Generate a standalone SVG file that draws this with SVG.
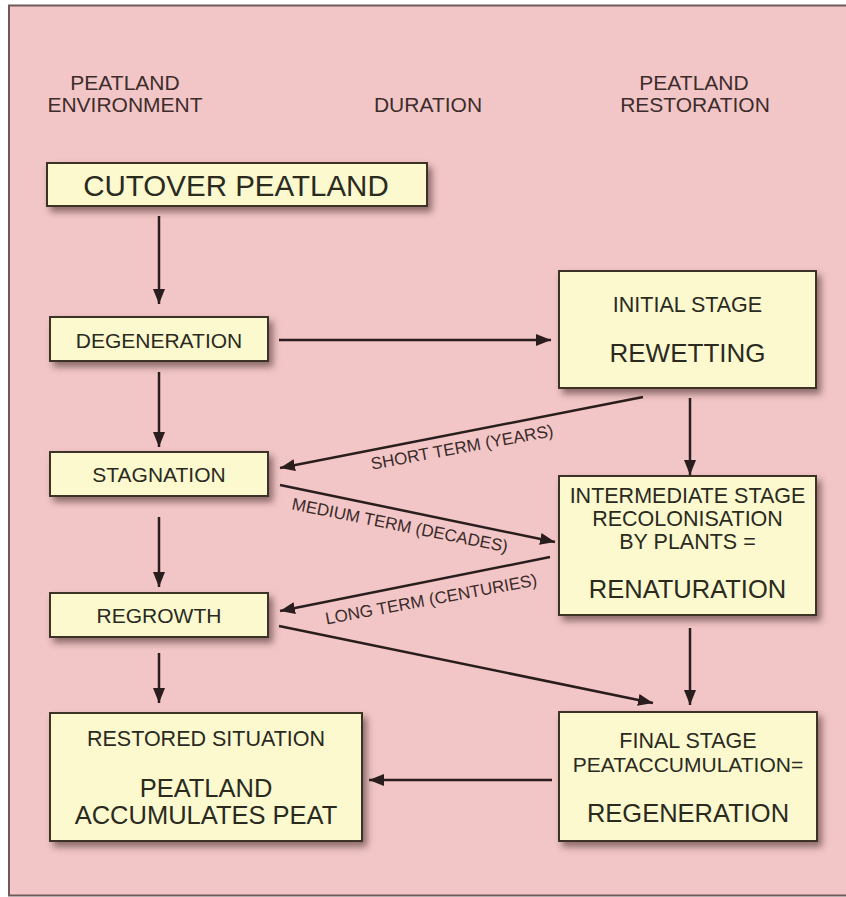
<svg xmlns="http://www.w3.org/2000/svg" width="846" height="897" viewBox="0 0 846 897">
<style>
.hdr{font-family:"Liberation Sans",Arial,sans-serif;font-size:21px;fill:#3d2c2c;text-anchor:middle}
.box{fill:#fcf9cf;stroke:#3d3328;stroke-width:2}
.t{font-family:"Liberation Sans",Arial,sans-serif;fill:#2a2a1e;text-anchor:middle}
.lbl{font-family:"Liberation Sans",Arial,sans-serif;font-size:17px;fill:#3a2a2a;text-anchor:middle}
.ln{stroke:#2a1d1d;stroke-width:2.5;fill:none;marker-end:url(#ah)}
</style>
<defs>
<marker id="ah" markerUnits="userSpaceOnUse" markerWidth="16" markerHeight="12" refX="15" refY="6" orient="auto">
<path d="M0,0 L15,6 L0,12 z" fill="#2a1d1d"/>
</marker>
<filter id="sh" x="-10%" y="-10%" width="130%" height="140%">
<feDropShadow dx="4" dy="5" stdDeviation="3.5" flood-color="#4a2e2e" flood-opacity="0.6"/>
</filter>
</defs>
<rect x="0" y="0" width="846" height="897" fill="#ffffff"/>
<rect x="9" y="5.5" width="850" height="890" fill="#f2c6c6" stroke="#6e5a5a" stroke-width="2"/>

<g id="headers">
<text class="hdr" x="125" y="90">PEATLAND</text>
<text class="hdr" x="125" y="112">ENVIRONMENT</text>
<text class="hdr" x="428" y="112">DURATION</text>
<text class="hdr" x="694" y="90">PEATLAND</text>
<text class="hdr" x="695" y="112">RESTORATION</text>
</g>

<g id="connectors">
<line class="ln" x1="159" y1="216" x2="159" y2="304"/>
<line class="ln" x1="279" y1="340" x2="551" y2="340"/>
<line class="ln" x1="159" y1="372" x2="159" y2="447"/>
<line class="ln" x1="643" y1="397" x2="280" y2="468"/>
<line class="ln" x1="690" y1="398" x2="690" y2="475"/>
<line class="ln" x1="280" y1="485" x2="555" y2="542"/>
<line class="ln" x1="550" y1="557" x2="280" y2="611"/>
<line class="ln" x1="159" y1="517" x2="159" y2="587"/>
<line class="ln" x1="279" y1="626" x2="653" y2="703"/>
<line class="ln" x1="159" y1="653" x2="159" y2="703"/>
<line class="ln" x1="690" y1="628" x2="690" y2="705"/>
<line class="ln" x1="552" y1="780" x2="369" y2="780"/>
<text class="lbl" transform="translate(462,447) rotate(-10.5)" x="0" y="6">SHORT TERM (YEARS)</text>
<text class="lbl" transform="translate(400,525) rotate(11.3)" x="0" y="6">MEDIUM TERM (DECADES)</text>
<text class="lbl" transform="translate(431,599) rotate(-10.5)" x="0" y="6">LONG TERM (CENTURIES)</text>
</g>

<g id="cutover">
<rect class="box" x="47" y="163" width="380" height="43" filter="url(#sh)"/>
<text class="t" x="236" y="196" font-size="29.5">CUTOVER PEATLAND</text>
</g>
<g id="degeneration">
<rect class="box" x="50" y="317" width="218" height="44" filter="url(#sh)"/>
<text class="t" x="159" y="347.5" font-size="21">DEGENERATION</text>
</g>
<g id="stagnation">
<rect class="box" x="50" y="452" width="218" height="44" filter="url(#sh)"/>
<text class="t" x="159" y="482" font-size="21">STAGNATION</text>
</g>
<g id="regrowth">
<rect class="box" x="50" y="593" width="218" height="44" filter="url(#sh)"/>
<text class="t" x="159" y="623" font-size="21">REGROWTH</text>
</g>
<g id="rewetting">
<rect class="box" x="559" y="271" width="257" height="117" filter="url(#sh)"/>
<text class="t" x="687.5" y="312" font-size="21.5">INITIAL STAGE</text>
<text class="t" x="687.5" y="362" font-size="26">REWETTING</text>
</g>
<g id="renaturation">
<rect class="box" x="559" y="476" width="257" height="139" filter="url(#sh)"/>
<text class="t" x="687.5" y="503" font-size="21.5">INTERMEDIATE STAGE</text>
<text class="t" x="687.5" y="526" font-size="21.5">RECOLONISATION</text>
<text class="t" x="687.5" y="549" font-size="21.5">BY PLANTS =</text>
<text class="t" x="687.5" y="598" font-size="25.5">RENATURATION</text>
</g>
<g id="regeneration">
<rect class="box" x="559" y="712" width="258" height="129" filter="url(#sh)"/>
<text class="t" x="688" y="748" font-size="21.5">FINAL STAGE</text>
<text class="t" x="688" y="772" font-size="21">PEATACCUMULATION=</text>
<text class="t" x="688" y="822" font-size="25.5">REGENERATION</text>
</g>
<g id="restored">
<rect class="box" x="50" y="713" width="312" height="128" filter="url(#sh)"/>
<text class="t" x="206" y="746" font-size="21.5">RESTORED SITUATION</text>
<text class="t" x="206" y="797" font-size="25.5">PEATLAND</text>
<text class="t" x="206" y="824" font-size="25.5">ACCUMULATES PEAT</text>
</g>
</svg>
